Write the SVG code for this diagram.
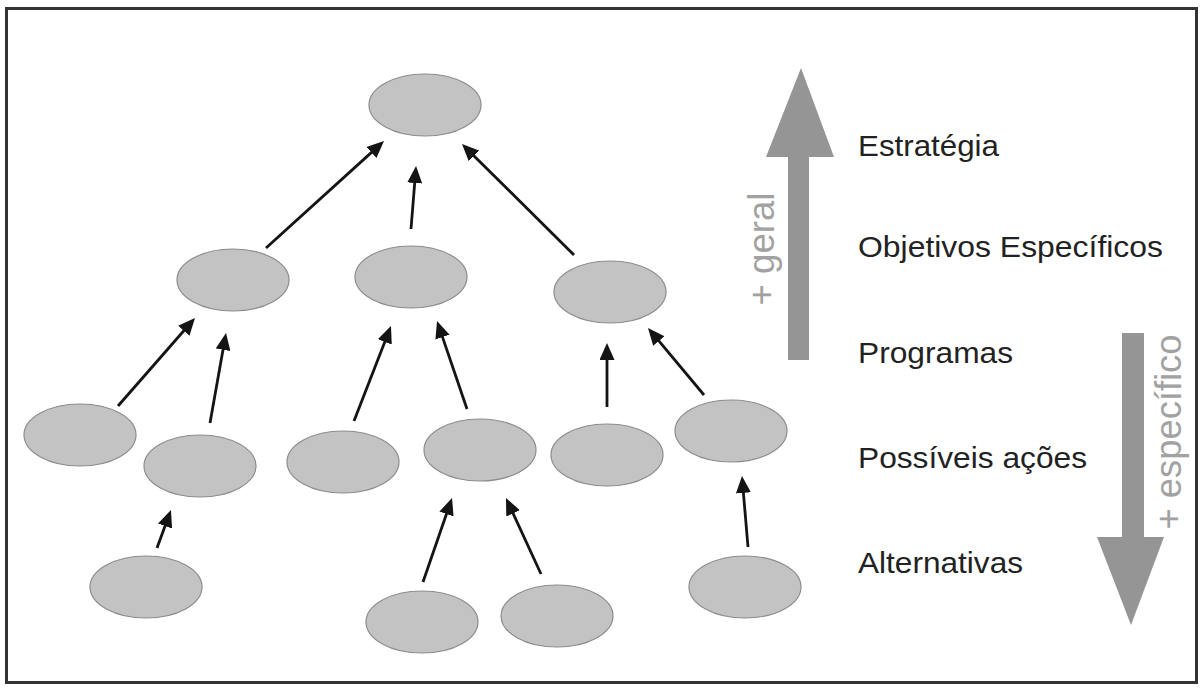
<svg xmlns="http://www.w3.org/2000/svg" width="1204" height="689" viewBox="0 0 1204 689">
  <style>
    .node { fill: #c3c3c3; stroke: #8c8c8c; stroke-width: 1.2; }
    .edge { fill: none; stroke: #141414; stroke-width: 2.8; marker-end: url(#head); }
    .level { font-family: "Liberation Sans", Arial, sans-serif; font-size: 30px; fill: #222222; }
    .scale { font-family: "Liberation Sans", Arial, sans-serif; fill: #a2a2a2; text-anchor: middle; }
    .big-arrow { fill: #959595; }
  </style>
  <defs>
    <marker id="head" markerUnits="userSpaceOnUse" markerWidth="17" markerHeight="15" refX="5" refY="7.5" orient="auto">
      <path d="M0,0 L17,7.5 L0,15 z" fill="#141414"/>
    </marker>
  </defs>

  <rect x="6.5" y="8.5" width="1190" height="674" fill="#ffffff" stroke="#333333" stroke-width="3"/>

  <!-- hierarchy nodes -->
  <g id="n-root"><ellipse class="node" cx="425" cy="105" rx="56" ry="31"/></g>
  <g id="n-obj-1"><ellipse class="node" cx="233" cy="280" rx="56" ry="31"/></g>
  <g id="n-obj-2"><ellipse class="node" cx="411" cy="277" rx="56" ry="31"/></g>
  <g id="n-obj-3"><ellipse class="node" cx="610" cy="292" rx="56" ry="31"/></g>
  <g id="n-prog-1"><ellipse class="node" cx="80" cy="435" rx="56" ry="31"/></g>
  <g id="n-prog-2"><ellipse class="node" cx="200" cy="466" rx="56" ry="31"/></g>
  <g id="n-prog-3"><ellipse class="node" cx="343" cy="462" rx="56" ry="31"/></g>
  <g id="n-prog-4"><ellipse class="node" cx="480" cy="450" rx="56" ry="31"/></g>
  <g id="n-prog-5"><ellipse class="node" cx="607" cy="455" rx="56" ry="31"/></g>
  <g id="n-prog-6"><ellipse class="node" cx="731" cy="431" rx="56" ry="31"/></g>
  <g id="n-alt-1"><ellipse class="node" cx="146" cy="587" rx="56" ry="31"/></g>
  <g id="n-alt-2"><ellipse class="node" cx="422" cy="622" rx="56" ry="31"/></g>
  <g id="n-alt-3"><ellipse class="node" cx="557" cy="616" rx="56" ry="31"/></g>
  <g id="n-alt-4"><ellipse class="node" cx="745" cy="587" rx="56" ry="31"/></g>

  <!-- connectors, child to parent -->
  <g id="connectors">
    <line class="edge" x1="266" y1="248" x2="375.1" y2="149.1"/>
    <line class="edge" x1="411" y1="229" x2="415.1" y2="178"/>
    <line class="edge" x1="574" y1="255" x2="470.5" y2="152.4"/>
    <line class="edge" x1="118" y1="406" x2="187.1" y2="327"/>
    <line class="edge" x1="210" y1="423" x2="223.9" y2="344.8"/>
    <line class="edge" x1="354" y1="421" x2="386.6" y2="337.2"/>
    <line class="edge" x1="467" y1="409" x2="440.9" y2="332.4"/>
    <line class="edge" x1="607" y1="407" x2="607" y2="355"/>
    <line class="edge" x1="704" y1="395" x2="655.7" y2="337.2"/>
    <line class="edge" x1="157" y1="548" x2="166.8" y2="521.3"/>
    <line class="edge" x1="423" y1="582" x2="448.1" y2="509.3"/>
    <line class="edge" x1="541" y1="574" x2="511" y2="508.9"/>
    <line class="edge" x1="748" y1="547" x2="743" y2="488"/>
  </g>

  <!-- scale arrows -->
  <g id="scale-up">
    <polygon class="big-arrow" points="801,68 834,157 809,157 809,360 788,360 788,157 766,157"/>
    <text class="scale" font-size="37" transform="translate(774,249) rotate(-90)" textLength="113" lengthAdjust="spacingAndGlyphs">+ geral</text>
  </g>
  <g id="scale-down">
    <polygon class="big-arrow" points="1122,333 1144,333 1144,537 1164,537 1131,625 1097,537 1122,537"/>
    <text class="scale" font-size="37" transform="translate(1181,432) rotate(-90)" textLength="195" lengthAdjust="spacingAndGlyphs">+ específico</text>
  </g>

  <!-- level labels -->
  <g id="labels">
    <text class="level" x="858" y="156" textLength="141" lengthAdjust="spacingAndGlyphs">Estratégia</text>
    <text class="level" x="858" y="257" textLength="305" lengthAdjust="spacingAndGlyphs">Objetivos Específicos</text>
    <text class="level" x="858" y="363" textLength="155" lengthAdjust="spacingAndGlyphs">Programas</text>
    <text class="level" x="858" y="468" textLength="229" lengthAdjust="spacingAndGlyphs">Possíveis ações</text>
    <text class="level" x="858" y="573" textLength="165" lengthAdjust="spacingAndGlyphs">Alternativas</text>
  </g>
</svg>
